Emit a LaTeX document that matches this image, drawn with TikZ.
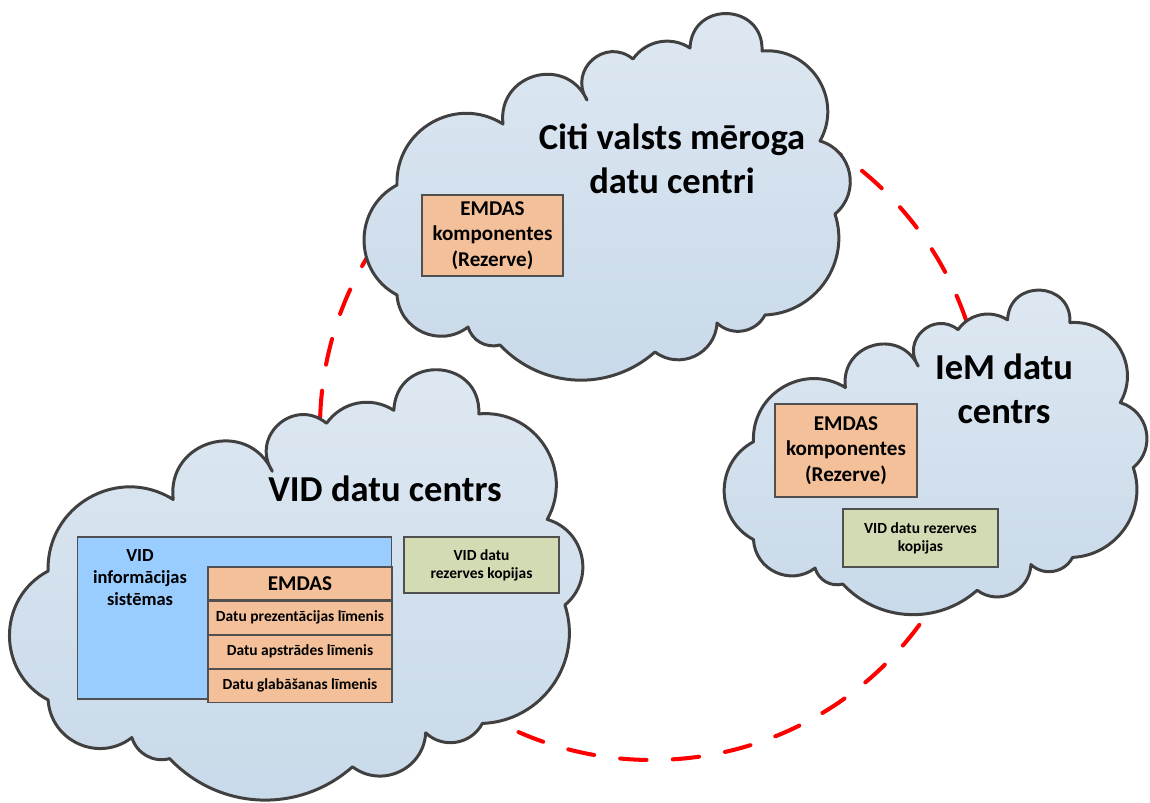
\documentclass[tikz,border=0pt]{standalone}
\usepackage{fontspec}
\setmainfont{Carlito}
\usepackage{xcolor}
\usepackage{tikz}
\usetikzlibrary{positioning}

\definecolor{cloudedge}{HTML}{404040}
\definecolor{cloudtop}{HTML}{DEE8F2}
\definecolor{cloudbot}{HTML}{C8D9E9}
\definecolor{vidblue}{HTML}{99CCFF}
\definecolor{emdasfill}{HTML}{F3C099}
\definecolor{backupfill}{HTML}{D3DBB4}
\definecolor{boxedge}{HTML}{505050}

% cloud in a unit box, drawn clockwise from the left
\newcommand{\ofcloud}[4]{% x y w h
  \begin{scope}[shift={(#1,#2)}, x=#3*0.02cm, y=-#4*0.02cm]
    \draw[cloudline] (0.0695,0.469) to[puff={62}{1.16}] (0.2863,0.3046)
      to[puff={81}{1.48}] (0.4581,0.2399) to[puff={81}{1.48}] (0.5521,0.1294)
      to[puff={44}{1.0}] (0.6687,0.0997) to[puff={90}{1.7}] (0.8160,0.1078)
      to[puff={62}{1.16}] (0.9346,0.3504) to[puff={62}{1.16}] (0.9652,0.5472)
      to[puff={53}{1.06}] (0.8221,0.8194) to[puff={53}{1.06}] (0.7239,0.8410)
      to[puff={62}{1.16}] (0.5971,0.9191) to[puff={44}{1.0}] (0.2802,0.9003)
      to[puff={44}{1.0}] (0.2147,0.8518) to[puff={62}{1.16}] (0.0695,0.7655)
      to[puff={62}{1.16}] (0.0695,0.469) -- cycle;
  \end{scope}}

\tikzset{
  cloudline/.style={draw=cloudedge, line width=1.7pt, top color=cloudtop, bottom color=cloudbot, line join=round},
  puff/.style 2 args={bend left=#1, looseness=#2},
  link/.style={draw=red, line width=2.3pt, line cap=round, dash pattern=on 15pt off 15pt},
  title/.style={font=\bfseries\fontsize{20.8}{25}\selectfont, align=center, inner sep=0pt},
  box/.style={draw=boxedge, line width=0.6pt, align=center, inner sep=0pt},
  bigtext/.style={font=\bfseries\fontsize{12}{14.5}\selectfont},
  smalltext/.style={font=\bfseries\fontsize{8.8}{10.2}\selectfont},
  layer/.style={box, smalltext, fill=emdasfill, minimum width=3.68cm, minimum height=0.66cm}
}

\begin{document}
\begin{tikzpicture}[x=0.02cm, y=-0.02cm]
\useasboundingbox (0,0) rectangle (1150,803);
\coordinate (ring) at (652,428);
\draw[link] (ring) circle[radius=332]; % ring behind the clouds
\ofcloud{363}{11}{489}{371} % other data centres
\ofcloud{8}{367}{577}{435} % VID
\ofcloud{724}{287}{424}{330} % IeM

% other data centres
\node[title] (othertitle) at (672,159) {Citi valsts mēroga\\datu centri};
\node[box, bigtext, fill=emdasfill, minimum width=2.82cm, minimum height=1.62cm] (otheremdas) at (492.5,235.5) {EMDAS\\komponentes\\(Rezerve)};

% IeM
\node[title] (iemtitle) at (1004,389) {IeM datu\\centrs};
\node[box, bigtext, fill=emdasfill, minimum width=2.84cm, minimum height=1.86cm] (iememdas) at (846,450.5) {EMDAS\\komponentes\\(Rezerve)};
\node[box, smalltext, fill=backupfill, minimum width=3.1cm, minimum height=1.16cm] (iembackup) at (920.5,538) {VID datu rezerves\\kopijas};

% VID
\node[title, anchor=base] (vidtitle) at (385,502) {VID datu centrs};
\node[box, fill=vidblue, minimum width=6.3cm, minimum height=3.24cm] (vidsys) at (234.5,618) {};
\node[font=\bfseries\fontsize{10.5}{12.5}\selectfont, align=center, inner sep=0pt] (vidsyslabel) at (140,577.5) {VID\\informācijas\\sistēmas};
\node[box, bigtext, fill=emdasfill, minimum width=3.68cm, minimum height=0.66cm] (emdas) at (300,583.5) {EMDAS};
\node[layer, below=0pt of emdas] (present) {Datu prezentācijas līmenis};
\node[layer, below=0pt of present] (process) {Datu apstrādes līmenis};
\node[layer, below=0pt of process] (storage) {Datu glabāšanas līmenis};
\node[box, smalltext, fill=backupfill, minimum width=3.1cm, minimum height=1.12cm] (vidbackup) at (481.5,565) {VID datu\\rezerves kopijas};
\end{tikzpicture}
\end{document}
